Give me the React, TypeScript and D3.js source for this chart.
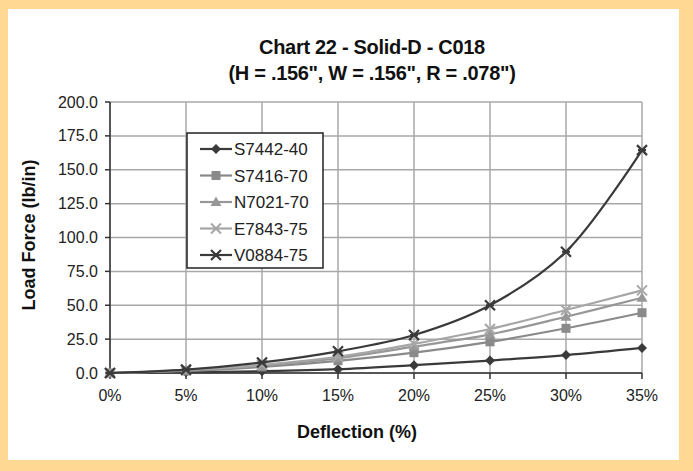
import { useMemo } from "react";
import * as d3 from "d3";

const deflection = [0, 5, 10, 15, 20, 25, 30, 35];

const seriesNames = ["S7442-40", "S7416-70", "N7021-70", "E7843-75", "V0884-75"];
const s7442 = [0, 0.5, 1.3, 2.8, 5.8, 9.2, 13.2, 18.5];
const s7416 = [0, 1.5, 4.5, 9, 15, 23, 33, 44.5];
const n7021 = [0, 2, 5.5, 11, 19.5, 28.5, 41.5, 55.5];
const e7843 = [0, 2.2, 6, 12, 21.5, 32.5, 46.5, 61];
const v0884 = [0, 2.5, 7.8, 16, 28, 50, 89.5, 164.5];

const yTicks = [0, 25, 50, 75, 100, 125, 150, 175, 200];

const W = 693;
const H = 471;
const PLOT = { left: 110, right: 642, top: 102, bottom: 373 };
const FONT = "Liberation Sans, Arial, sans-serif";

type Marker = "diamond" | "square" | "triangle" | "x" | "star";

const styles: { color: string; marker: Marker }[] = [
  { color: "#3a3a3a", marker: "diamond" },
  { color: "#8a8a8a", marker: "square" },
  { color: "#979797", marker: "triangle" },
  { color: "#a6a6a6", marker: "x" },
  { color: "#3a3a3a", marker: "star" },
];

function MarkerShape({ kind, x, y, color }: { kind: Marker; x: number; y: number; color: string }) {
  if (kind === "diamond") {
    return <path d={`M${x},${y - 5}L${x + 5},${y}L${x},${y + 5}L${x - 5},${y}Z`} fill={color} />;
  }
  if (kind === "square") {
    return <rect x={x - 4.5} y={y - 4.5} width={9} height={9} fill={color} />;
  }
  if (kind === "triangle") {
    return <path d={`M${x},${y - 5.5}L${x + 5.5},${y + 4}L${x - 5.5},${y + 4}Z`} fill={color} />;
  }
  if (kind === "x") {
    return (
      <path
        d={`M${x - 5},${y - 5}L${x + 5},${y + 5}M${x - 5},${y + 5}L${x + 5},${y - 5}`}
        stroke={color}
        strokeWidth={2}
      />
    );
  }
  return (
    <path
      d={`M${x - 5},${y - 5}L${x + 5},${y + 5}M${x - 5},${y + 5}L${x + 5},${y - 5}M${x - 4},${y}L${x + 4},${y}`}
      stroke={color}
      strokeWidth={2.2}
    />
  );
}

export default function App() {
  const allSeries = [s7442, s7416, n7021, e7843, v0884];

  const x = useMemo(() => d3.scaleLinear().domain([0, 35]).range([PLOT.left, PLOT.right]), []);
  const y = useMemo(() => d3.scaleLinear().domain([0, 200]).range([PLOT.bottom, PLOT.top]), []);

  const line = d3
    .line<number>()
    .x((_, i) => x(deflection[i]))
    .y((d) => y(d))
    .curve(d3.curveCatmullRom.alpha(0.5));

  const legend = { x: 187, y: 133, w: 136, h: 135 };

  return (
    <>
      <style>{`body{margin:0}`}</style>
      <svg width={W} height={H} style={{ display: "block" }} fontFamily={FONT}>
        <rect x={0} y={0} width={W} height={H} fill="#ffd993" />
        <rect x={8} y={9} width={671} height={451} fill="#ffffff" />

        {/* title */}
        <text x={372} y={54} textAnchor="middle" fontSize={20} fontWeight="bold" fill="#111" letterSpacing={-0.3}>
          Chart 22 - Solid-D - C018
        </text>
        <text x={372} y={80} textAnchor="middle" fontSize={20} fontWeight="bold" fill="#111" letterSpacing={-0.3}>
          (H = .156", W = .156", R = .078")
        </text>

        {/* grid */}
        {yTicks.map((t) => (
          <line key={"gy" + t} x1={PLOT.left} x2={PLOT.right} y1={y(t)} y2={y(t)} stroke="#a8a8a8" strokeWidth={1.5} />
        ))}
        {deflection.map((t) => (
          <line key={"gx" + t} x1={x(t)} x2={x(t)} y1={PLOT.top} y2={PLOT.bottom} stroke="#a8a8a8" strokeWidth={1.5} />
        ))}

        {/* axes */}
        <line x1={PLOT.left} x2={PLOT.left} y1={PLOT.top} y2={PLOT.bottom} stroke="#333" strokeWidth={1.5} />
        <line x1={PLOT.left} x2={PLOT.right} y1={PLOT.bottom} y2={PLOT.bottom} stroke="#333" strokeWidth={1.5} />
        {yTicks.map((t) => (
          <g key={"ty" + t}>
            <line x1={PLOT.left - 5} x2={PLOT.left} y1={y(t)} y2={y(t)} stroke="#333" strokeWidth={1.5} />
            <text x={PLOT.left - 12} y={y(t) + 5.5} textAnchor="end" fontSize={16} fill="#222">
              {t.toFixed(1)}
            </text>
          </g>
        ))}
        {deflection.map((t) => (
          <g key={"tx" + t}>
            <line x1={x(t)} x2={x(t)} y1={PLOT.bottom} y2={PLOT.bottom + 6} stroke="#333" strokeWidth={1.5} />
            <text x={x(t)} y={PLOT.bottom + 28} textAnchor="middle" fontSize={16} fill="#222">
              {t + "%"}
            </text>
          </g>
        ))}

        <text x={357} y={438} textAnchor="middle" fontSize={18} fontWeight="bold" fill="#111">
          Deflection (%)
        </text>
        <text
          transform={`translate(35,235) rotate(-90)`}
          textAnchor="middle"
          fontSize={18}
          fontWeight="bold"
          fill="#111"
        >
          Load Force (lb/in)
        </text>

        {/* series */}
        {allSeries.map((s, si) => (
          <g key={seriesNames[si]}>
            <path d={line(s) ?? ""} fill="none" stroke={styles[si].color} strokeWidth={2.2} />
            {s.map((v, i) => (
              <MarkerShape key={i} kind={styles[si].marker} x={x(deflection[i])} y={y(v)} color={styles[si].color} />
            ))}
          </g>
        ))}

        {/* legend */}
        <rect x={legend.x} y={legend.y} width={legend.w} height={legend.h} fill="#fff" stroke="#222" strokeWidth={1.5} />
        {seriesNames.map((name, i) => {
          const ly = legend.y + 16 + i * 26.5;
          return (
            <g key={"lg" + name}>
              <line x1={200} x2={232} y1={ly} y2={ly} stroke={styles[i].color} strokeWidth={2.2} />
              <MarkerShape kind={styles[i].marker} x={216} y={ly} color={styles[i].color} />
              <text x={234} y={ly + 6} fontSize={17} fill="#222">
                {name}
              </text>
            </g>
          );
        })}
      </svg>
    </>
  );
}
